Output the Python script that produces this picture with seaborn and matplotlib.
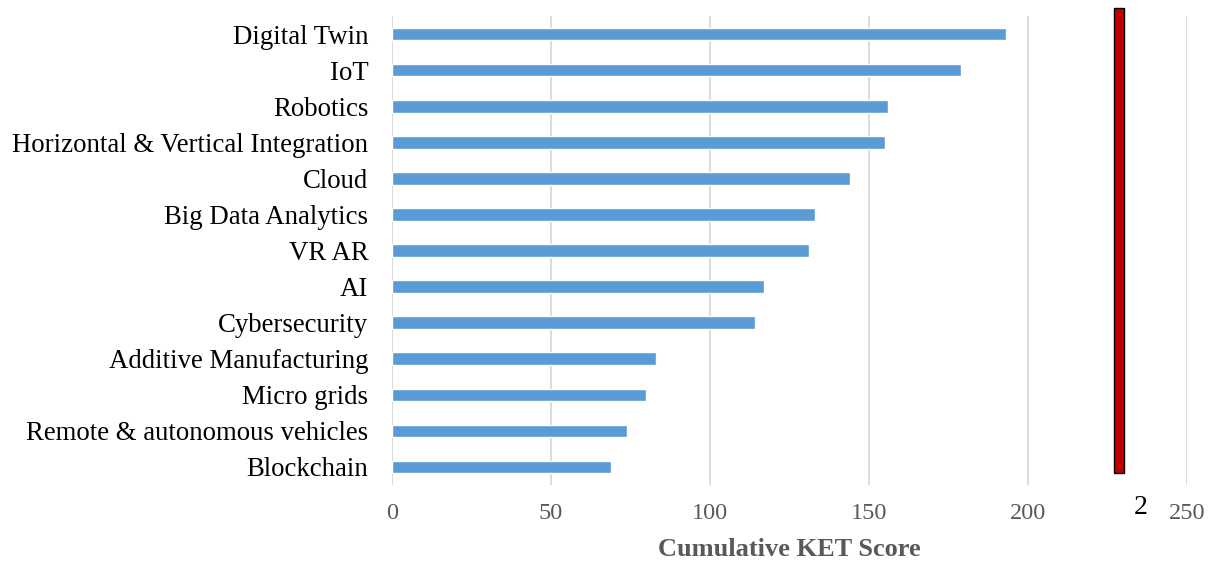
import matplotlib
matplotlib.use("Agg")
import matplotlib.pyplot as plt
import matplotlib.patches as mpatches
import pandas as pd
import seaborn as sns

technologies = ["Digital Twin", "IoT", "Robotics", "Horizontal & Vertical Integration",
                "Cloud", "Big Data Analytics", "VR AR", "AI", "Cybersecurity",
                "Additive Manufacturing", "Micro grids", "Remote & autonomous vehicles",
                "Blockchain"]
scores = [193, 179, 156, 155, 144, 133, 131, 117, 114, 83, 80, 74, 69]
x_ticks = [0, 50, 100, 150, 200, 250]
stray_label = "2"

df = pd.DataFrame({"tech": technologies, "score": scores})

sns.set_theme(style="white")
plt.rcParams['font.family'] = ['Liberation Serif', 'DejaVu Serif']

fig = plt.figure(figsize=(12.11, 5.63), dpi=100)
ax = fig.add_axes([0.3237, 0.1385, 0.6565, 0.8331])

sns.barplot(data=df, x="score", y="tech", orient="h", color="#5b9bd5",
            saturation=1, width=0.35, ax=ax)

ax.set_xlim(0, 250)
ax.set_ylim(12.5, -0.5)
ax.set_xticks(x_ticks)
ax.xaxis.grid(True, color="#d9d9d9", linewidth=1.3)
ax.set_axisbelow(True)
for s in ax.spines.values():
    s.set_visible(False)
ax.tick_params(axis="x", length=0, pad=13, labelsize=17.5, labelcolor="#595959")
ax.tick_params(axis="y", length=0, pad=17, labelsize=19.3, labelcolor="black")
ax.set_ylabel("")
ax.set_xlabel("Cumulative KET Score", fontsize=19, fontweight="bold",
              color="#595959", labelpad=10)

# stray red marker at the right of the plot
trans = ax.get_xaxis_transform()
ax.add_patch(mpatches.Rectangle((227, 0.026), 3.1, 0.99, transform=trans,
                                facecolor="#c00000", edgecolor="black",
                                linewidth=1, clip_on=False, zorder=5))
ax.text(235.3, -0.048, stray_label, transform=trans, ha="center", va="center",
        fontsize=20, color="black")

fig.savefig("out.png", dpi=100)
